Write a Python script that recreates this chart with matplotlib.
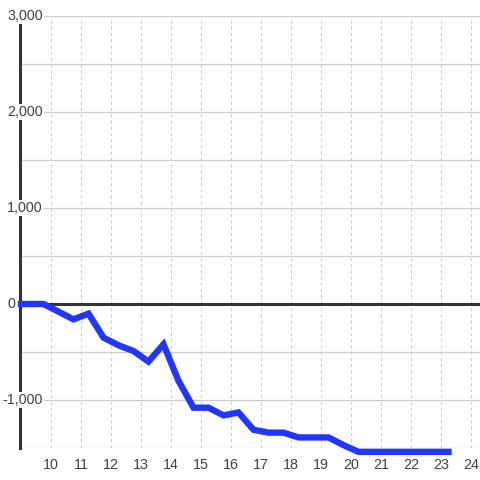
import matplotlib
matplotlib.use("Agg")
import matplotlib.pyplot as plt
import matplotlib.transforms as mtransforms

# readings (hour of day -> value)
hours = [9.0, 9.75, 10.25, 10.75, 11.25, 11.75, 12.25, 12.75, 13.25, 13.75,
         14.25, 14.75, 15.25, 15.75, 16.25, 16.75, 17.25, 17.75, 18.25, 18.75,
         19.25, 19.75, 20.25, 20.75, 21.25, 21.75, 22.25, 22.75, 23.25]
values = [0, 0, -80, -160, -100, -350, -430, -490, -600, -420,
          -800, -1080, -1080, -1160, -1130, -1310, -1340, -1340, -1390, -1390,
          -1390, -1470, -1540, -1540, -1540, -1540, -1540, -1540, -1540]

x_ticks = list(range(10, 25))
y_labels = [-1000, 0, 1000, 2000, 3000]
y_grid = [-1500, -1000, -500, 0, 500, 1000, 1500, 2000, 2500, 3000]

plt.rcParams['font.family'] = ['Liberation Sans', 'DejaVu Sans']

fig = plt.figure(figsize=(4.8, 4.8), dpi=100)
ax = fig.add_axes([20 / 480, 32 / 480, 460 / 480, 432 / 480])
ax.set_xlim(8.967, 24.3)
ax.set_ylim(-1500, 3000)

for name, s in ax.spines.items():
    s.set_visible(name == 'left')
ax.spines['left'].set_color('#333333')
ax.spines['left'].set_linewidth(2.2)

ax.set_xticks(x_ticks)
ax.set_yticks(y_grid)
ax.tick_params(axis='both', length=0)
ax.tick_params(axis='y', labelleft=False)
ax.tick_params(axis='x', labelsize=10.3, labelcolor='#404040', pad=7)
ax.grid(axis='y', color='#cccccc', linewidth=0.9, linestyle='-')
ax.grid(axis='x', color='#cccccc', linewidth=0.75, linestyle=(0, (3, 3)))
ax.set_axisbelow(True)

ax.axhline(0, color='#333333', linewidth=2.2, zorder=2)

ax.plot(hours, values, color='#2137fd', linewidth=4.6,
        solid_capstyle='projecting', solid_joinstyle='miter',
        clip_on=False, zorder=3)

trans = mtransforms.blended_transform_factory(fig.transFigure, ax.transData)
for v in y_labels:
    xpos = 2 / 480 if v < 0 else 7 / 480
    ax.text(xpos, v, f"{v:,}", transform=trans, ha='left', va='center',
            fontsize=10.3, color='#404040', zorder=4,
            bbox=dict(facecolor='white', edgecolor='none', pad=1))

fig.savefig("out.png", dpi=100)
